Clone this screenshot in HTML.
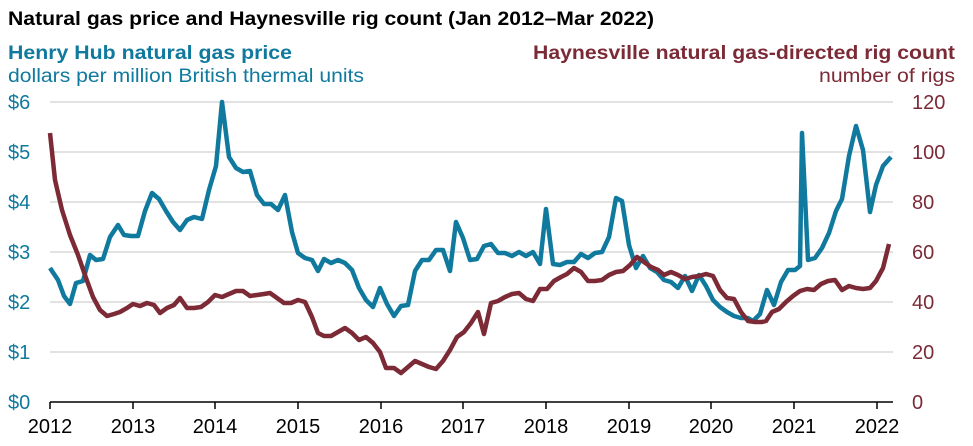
<!DOCTYPE html>
<html><head><meta charset="utf-8"><style>
html,body{margin:0;padding:0;background:#fff;}
svg{display:block;font-family:"Liberation Sans",Arial,sans-serif;}
</style></head><body>
<svg width="973" height="446" viewBox="0 0 973 446" xmlns="http://www.w3.org/2000/svg">
<text x="8" y="25" font-size="19" font-weight="bold" fill="#000" textLength="646" lengthAdjust="spacingAndGlyphs">Natural gas price and Haynesville rig count (Jan 2012–Mar 2022)</text>
<text x="8" y="59" font-size="19" font-weight="bold" fill="#10799e" textLength="284" lengthAdjust="spacingAndGlyphs">Henry Hub natural gas price</text>
<text x="8" y="82" font-size="19" fill="#10799e" textLength="356" lengthAdjust="spacingAndGlyphs">dollars per million British thermal units</text>
<text x="955" y="59" font-size="19" font-weight="bold" fill="#7b2a36" text-anchor="end" textLength="422" lengthAdjust="spacingAndGlyphs">Haynesville natural gas-directed rig count</text>
<text x="955" y="82" font-size="19" fill="#7b2a36" text-anchor="end" textLength="136" lengthAdjust="spacingAndGlyphs">number of rigs</text>
<g stroke="#d9d9d9" stroke-width="1.5">
<line x1="50" x2="893" y1="102" y2="102"/><line x1="50" x2="893" y1="152" y2="152"/><line x1="50" x2="893" y1="202" y2="202"/><line x1="50" x2="893" y1="252" y2="252"/><line x1="50" x2="893" y1="302" y2="302"/><line x1="50" x2="893" y1="352" y2="352"/>
</g>
<line x1="50" x2="893" y1="402" y2="402" stroke="#000" stroke-width="1.5"/>
<g stroke="#000" stroke-width="1.5">
<line x1="50" x2="50" y1="402" y2="409"/><line x1="133" x2="133" y1="402" y2="409"/><line x1="215" x2="215" y1="402" y2="409"/><line x1="298" x2="298" y1="402" y2="409"/><line x1="381" x2="381" y1="402" y2="409"/><line x1="463" x2="463" y1="402" y2="409"/><line x1="546" x2="546" y1="402" y2="409"/><line x1="629" x2="629" y1="402" y2="409"/><line x1="711" x2="711" y1="402" y2="409"/><line x1="794" x2="794" y1="402" y2="409"/><line x1="877" x2="877" y1="402" y2="409"/>
</g>
<g font-size="20" fill="#000" text-anchor="middle">
<text x="50" y="433">2012</text><text x="133" y="433">2013</text><text x="215" y="433">2014</text><text x="298" y="433">2015</text><text x="381" y="433">2016</text><text x="463" y="433">2017</text><text x="546" y="433">2018</text><text x="629" y="433">2019</text><text x="711" y="433">2020</text><text x="794" y="433">2021</text><text x="877" y="433">2022</text>
</g>
<g font-size="20" fill="#10799e">
<text x="8" y="109">$6</text><text x="8" y="159">$5</text><text x="8" y="209">$4</text><text x="8" y="259">$3</text><text x="8" y="309">$2</text><text x="8" y="359">$1</text><text x="8" y="409">$0</text>
</g>
<g font-size="20" fill="#7b2a36">
<text x="912" y="109">120</text><text x="912" y="159">100</text><text x="912" y="209">80</text><text x="912" y="259">60</text><text x="912" y="309">40</text><text x="912" y="359">20</text><text x="912" y="409">0</text>
</g>
<polyline fill="none" stroke="#10799e" stroke-width="4.5" stroke-linejoin="round" points="50,268 58,280 64,296 70,304 76,283 83,281 90,255 96,260 103,259 110,237 118,225 124,235 131,236 138,236 145,211 152,193 159,199 166,211 173,222 180,230 187,220 194,217 202,219 209,190 216,166 222,102 229,157 236,168 243,172 250,171 257,195 264,204 271,204 278,210 285,195 292,232 298,253 305,258 312,260 318,271 324,259 331,263 338,260 345,263 352,270 359,288 366,300 373,307 380,288 387,304 394,316 401,306 408,305 415,271 422,260 429,260 436,250 443,250 450,271 456,222 463,238 470,260 477,259 484,246 491,244 498,253 505,253 512,256 519,252 526,256 533,252 540,264 546,209 553,264 560,265 567,262 574,262 581,254 588,258 595,253 602,252 609,237 616,198 622,201 629,245 636,268 643,256 650,268 657,272 664,280 671,282 678,288 685,276 692,291 699,275 706,286 713,300 720,307 727,312 734,316 741,318 748,318 753,321 760,314 767,290 774,305 781,282 788,270 795,270 800,266 802,133 808,260 815,258 822,248 829,233 836,211 842,199 849,156 856,126 863,150 870,212 876,185 883,166 891,157"/>
<polyline fill="none" stroke="#7b2a36" stroke-width="4.5" stroke-linejoin="round" points="50,133 55,180 62,210 70,235 78,255 86,278 93,297 100,310 107,316 114,314 120,312 127,308 133,304 140,306 147,303 154,305 160,313 167,308 174,305 180,298 187,308 194,308 201,307 208,302 215,295 222,297 229,294 236,291 243,291 250,296 257,295 264,294 270,293 277,298 284,303 291,303 298,300 305,302 312,317 318,333 324,336 331,336 338,332 345,328 352,333 359,340 366,337 373,343 380,352 386,368 394,368 401,373 408,367 415,361 422,364 429,367 436,369 443,361 450,350 457,337 464,332 471,323 478,312 484,334 491,303 498,301 505,297 512,294 519,293 526,299 533,301 540,289 547,289 554,281 561,277 567,274 574,268 581,272 588,281 595,281 602,280 609,275 616,272 623,271 630,265 637,257 644,262 651,267 658,270 664,275 671,272 678,275 685,279 692,277 699,276 706,274 713,276 720,290 727,298 734,299 741,312 748,321 755,322 762,322 766,321 772,312 779,309 786,302 793,296 800,291 807,289 814,290 821,284 828,281 835,280 842,290 849,286 856,288 863,289 870,288 876,281 883,268 889,244"/>
</svg>
</body></html>
